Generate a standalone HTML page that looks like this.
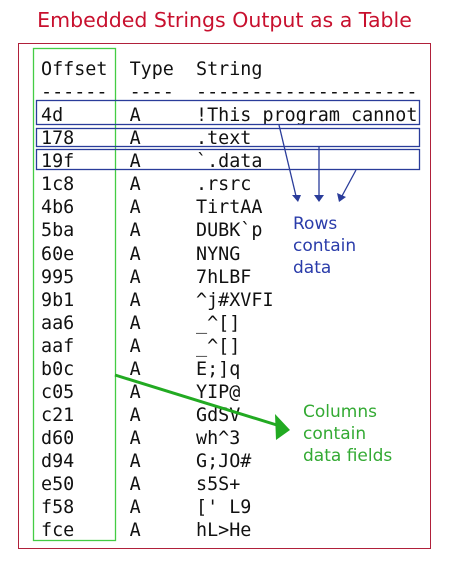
<!DOCTYPE html>
<html><head><style>
body{margin:0;width:449px;height:562px;background:#fff;position:relative;overflow:hidden;font-family:"DejaVu Sans Mono","Liberation Mono",monospace}
.t{position:absolute;left:0;width:449px;text-align:center;top:8px;font:20.5px "DejaVu Sans","Liberation Sans",sans-serif;color:#c8102e}
pre{position:absolute;left:41px;top:58px;margin:0;font-size:18.4px;line-height:23.06px;color:#111}
.l{position:absolute;font:17px "DejaVu Sans","Liberation Sans",sans-serif;line-height:22px}
</style></head><body>
<div class="t">Embedded Strings Output as a Table</div>
<div style="position:absolute;left:18px;top:43px;width:411px;height:504px;border:1.5px solid #b0203a"></div>
<pre>Offset  Type  String
------  ----  --------------------
4d      A     !This program cannot
178     A     .text
19f     A     `.data
1c8     A     .rsrc
4b6     A     TirtAA
5ba     A     DUBK`p
60e     A     NYNG
995     A     7hLBF
9b1     A     ^j#XVFI
aa6     A     _^[]
aaf     A     _^[]
b0c     A     E;]q
c05     A     YIP@
c21     A     GdSV
d60     A     wh^3
d94     A     G;JO#
e50     A     s5S+
f58     A     [' L9
fce     A     hL>He</pre>
<svg width="449" height="562" style="position:absolute;left:0;top:0">
<rect x="33.5" y="48.5" width="82" height="492" fill="none" stroke="#4c4" stroke-width="1.3"/>
<g fill="none" stroke="#2a3c9a" stroke-width="1.3">
<rect x="36.5" y="100.5" width="383" height="24"/>
<rect x="36.5" y="128.5" width="383" height="18"/>
<rect x="36.5" y="149.5" width="383" height="20"/>
<line x1="279" y1="125" x2="296" y2="196"/>
<line x1="319" y1="147" x2="319" y2="196"/>
<line x1="356" y1="170" x2="342" y2="196"/>
</g>
<g fill="#2a3c9a">
<polygon points="292,195 301,195 298,202"/>
<polygon points="314,195 324,195 319,202"/>
<polygon points="337,193 346,197 339,202"/>
</g>
<line x1="115" y1="375" x2="280" y2="426" stroke="#2a2" stroke-width="3"/>
<polygon points="275,414 290,430 276,440" fill="#2a2"/>
</svg>
<div class="l" style="left:293px;top:213px;color:#2a3caa">Rows<br>contain<br>data</div>
<div class="l" style="left:303px;top:401px;color:#3a3">Columns<br>contain<br>data fields</div>
</body></html>
